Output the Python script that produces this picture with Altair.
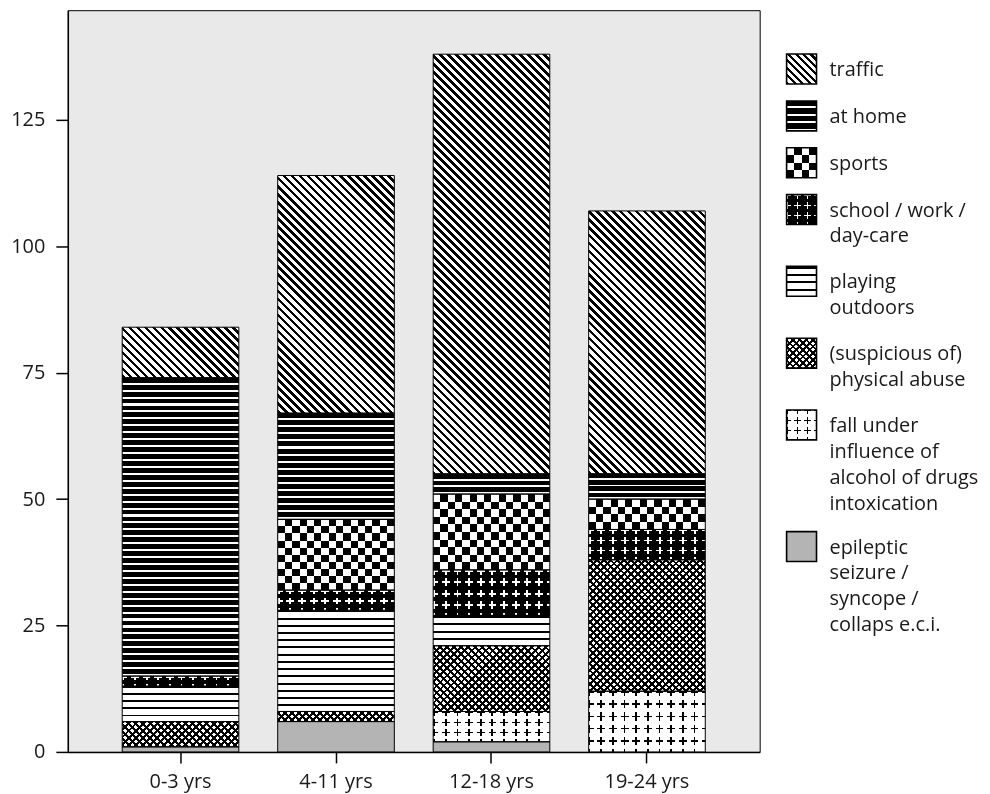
import altair as alt
import pandas as pd

# ---------------- data ----------------
ages = ["0-3 yrs", "4-11 yrs", "12-18 yrs", "19-24 yrs"]
causes = [
    "traffic",
    "at home",
    "sports",
    "school / work / day-care",
    "playing outdoors",
    "(suspicious of) physical abuse",
    "fall under influence of alcohol of drugs intoxication",
    "epileptic seizure / syncope / collaps e.c.i.",
]
legend_labels = [
    "traffic",
    "at home",
    "sports",
    "school / work /\nday-care",
    "playing\noutdoors",
    "(suspicious of)\nphysical abuse",
    "fall under\ninfluence of\nalcohol of drugs\nintoxication",
    "epileptic\nseizure /\nsyncope /\ncollaps e.c.i.",
]
traffic = [10, 47, 83, 52]
at_home = [59, 21, 4, 5]
sports = [0, 14, 15, 6]
school_work = [2, 4, 9, 6]
playing_outdoors = [7, 20, 6, 0]
physical_abuse = [5, 2, 13, 26]
fall_intoxication = [0, 0, 6, 12]
epileptic_seizure = [1, 6, 2, 0]
y_ticks = [0, 25, 50, 75, 100, 125]

series = [traffic, at_home, sports, school_work, playing_outdoors,
          physical_abuse, fall_intoxication, epileptic_seizure]

rows = []
for ci, (c, vals) in enumerate(zip(causes, series)):
    for a, v in zip(ages, vals):
        rows.append({"age": a, "cause": c, "ord": ci, "value": v})
df = pd.DataFrame(rows)
leg_df = pd.DataFrame({"cause": causes, "label": legend_labels,
                       "ord": list(range(len(causes)))})

# ---------------- layout / style ----------------
FONT = "Open Sans"
TXT = "#1a1a1a"
W, H = 694, 744
YMAX = 146.7
PX = H / YMAX
P_IN, P_OUT = 0.25, 0.35
BW = W / (len(ages) - P_IN + 2 * P_OUT) * (1 - P_IN)
SYM = 30
LW = 195

BK, WH = "#000000", "#ffffff"
# stripe pattern: (kind, period px, start, end (fractions of period) of colour A, colour A, colour B)
# each cause: list of (pattern, blend mode) drawn in order
patterns = {
    causes[0]: [(("b", 8, 0, 0.45, BK, WH), None)],
    causes[1]: [(("h", 7, 0, 0.70, BK, WH), None)],
    causes[2]: [(("h", 15, 0, 0.5, BK, WH), None),
                (("v", 15, 0, 0.5, WH, BK), "difference")],
    causes[3]: [(("h", 12, 0, 0.167, WH, BK), None),
                (("v", 12, 0.417, 0.75, BK, WH), "multiply"),
                (("v", 12, 0, 0.167, WH, BK), "lighten"),
                (("h", 12, 0.417, 0.75, BK, WH), "multiply")],
    causes[4]: [(("h", 7, 0, 0.28, BK, WH), None)],
    causes[5]: [(("b", 7, 0, 0.42, BK, WH), None),
                (("s", 7, 0, 0.42, BK, WH), "multiply")],
    causes[6]: [(("h", 12, 0, 0.15, BK, WH), None),
                (("v", 12, 0.417, 0.75, WH, BK), "lighten"),
                (("v", 12, 0, 0.15, BK, WH), "multiply"),
                (("h", 12, 0.417, 0.75, WH, BK), "lighten")],
}
solid = {causes[7]: "#b4b4b4"}

K = "((datum.w + datum.h) / (datum.w * datum.w + datum.h * datum.h))"
LENGTH = {"h": "datum.h", "v": "datum.w",
          "b": "(datum.w + datum.h)", "s": "(datum.w + datum.h)"}
COORDS = {
    "h": "x1: 0, y1: 0, x2: 0, y2: 1",
    "v": "x1: 0, y1: 0, x2: 1, y2: 0",
    "b": f"x1: 0, y1: 1, x2: {K} * datum.w, y2: 1 - {K} * datum.h",
    "s": f"x1: 0, y1: 0, x2: {K} * datum.w, y2: {K} * datum.h",
}


def patterned(src, cause, pat, keys):
    kind, period, s, e, ca, cb = pat
    return (
        src.transform_filter(alt.datum.cause == cause)
        .transform_calculate(n=f"max(1, round({LENGTH[kind]} / {period}))")
        .transform_calculate(seq="sequence(0, 6 * datum.n)")
        .transform_flatten(["seq"], as_=["j"])
        .transform_calculate(k="datum.j % 6")
        .transform_calculate(
            offset=f"min(1, (floor(datum.j / 6) + (datum.k == 0 ? 0 : (datum.k <= 2 ? {s} : "
                   f"(datum.k <= 4 ? {e} : 1)))) / datum.n)")
        .transform_calculate(color=f"(datum.k == 2 || datum.k == 3) ? '{ca}' : '{cb}'")
        .transform_aggregate(aggregate=[{"op": "values", "field": "offset", "as": "stops"}],
                             groupby=keys)
        .transform_calculate(grad="{gradient: 'linear', " + COORDS[kind] + ", stops: datum.stops}")
    )


FILL = alt.Fill("grad:N", scale=None, legend=None)


def build_layers(src, keys, enc, mark, outline_width):
    layers = []
    for c in causes:
        if c in solid:
            layers.append(enc(getattr(src.transform_filter(alt.datum.cause == c), mark)(fill=solid[c])))
            continue
        for pat, blend in patterns[c]:
            ch = patterned(src, c, pat, keys)
            m = getattr(ch, mark)(blend=blend) if blend else getattr(ch, mark)()
            layers.append(enc(m).encode(fill=FILL))
    layers.append(enc(getattr(src, mark)(fill="transparent", stroke=BK, strokeWidth=outline_width)))
    return layers


# ---------------- main chart ----------------
x_enc = alt.X("age:N",
              scale=alt.Scale(domain=ages, paddingInner=P_IN, paddingOuter=P_OUT),
              axis=alt.Axis(title=None, labelAngle=0, tickSize=11, labelPadding=9))
y_enc = alt.Y("y0:Q",
              scale=alt.Scale(domain=[0, YMAX], nice=False),
              axis=alt.Axis(title=None, values=y_ticks, tickSize=12, labelPadding=11, grid=False))

src_main = (
    alt.Chart()
    .transform_filter("datum.value > 0")
    .transform_stack(stack="value", groupby=["age"], as_=["y0", "y1"],
                     sort=[alt.SortField("ord", order="descending")])
    .transform_calculate(h=f"(datum.y1 - datum.y0) * {PX}", w=f"{BW}")
)
main_keys = ["age", "cause", "y0", "y1", "h", "w"]


def bar_enc(ch):
    return ch.encode(x=x_enc, y=y_enc, y2=alt.Y2("y1:Q"))


main = alt.layer(*build_layers(src_main, main_keys, bar_enc, "mark_bar", 1), data=df).properties(
    width=W, height=H,
    view=alt.ViewBackground(fill="#e9e9e9", stroke=BK, strokeWidth=1),
)

# ---------------- legend ----------------
LXS = alt.Scale(domain=[0, LW], nice=False, zero=False)
LYS = alt.Scale(domain=[0, H], nice=False, zero=False, reverse=True)

src_leg = (
    alt.Chart()
    .transform_calculate(nl="length(split(datum.label, '\\n'))")
    .transform_calculate(rowh="25 * datum.nl + 22")
    .transform_window(cum="sum(rowh)", sort=[alt.SortField("ord")], frame=[None, 0])
    .transform_calculate(y0="44 + datum.cum - datum.rowh")
    .transform_calculate(y1=f"datum.y0 + {SYM}", x0="0", x1=f"{SYM}",
                         h=f"{SYM}", w=f"{SYM}", tx="43", ty="datum.y0 + 22")
)
leg_keys = ["cause", "y0", "y1", "x0", "x1", "h", "w"]


def rect_enc(ch):
    return ch.encode(x=alt.X("x0:Q", scale=LXS, axis=None), x2=alt.X2("x1:Q"),
                     y=alt.Y("y0:Q", scale=LYS, axis=None), y2=alt.Y2("y1:Q"))


leg_layers = build_layers(src_leg, leg_keys, rect_enc, "mark_rect", 1.6)
leg_layers.append(
    src_leg.mark_text(align="left", baseline="alphabetic", lineBreak="\n", lineHeight=26,
                      fontSize=20, font=FONT, color=TXT)
    .encode(x=alt.X("tx:Q", scale=LXS, axis=None),
            y=alt.Y("ty:Q", scale=LYS, axis=None),
            text="label:N")
)

legend = alt.layer(*leg_layers, data=leg_df).properties(width=LW, height=H)

chart = (
    alt.hconcat(main, legend, spacing=24)
    .properties(padding={"left": 2, "top": 0, "right": 0, "bottom": 0})
    .configure(font=FONT)
    .configure_view(stroke="transparent")
    .configure_axis(labelFont=FONT, labelFontSize=20, labelColor=TXT,
                    domainColor=BK, tickColor=BK,
                    domainWidth=1.5, tickWidth=1.5)
)

chart.save("out.html", embed_options={"renderer": "svg", "actions": False})
